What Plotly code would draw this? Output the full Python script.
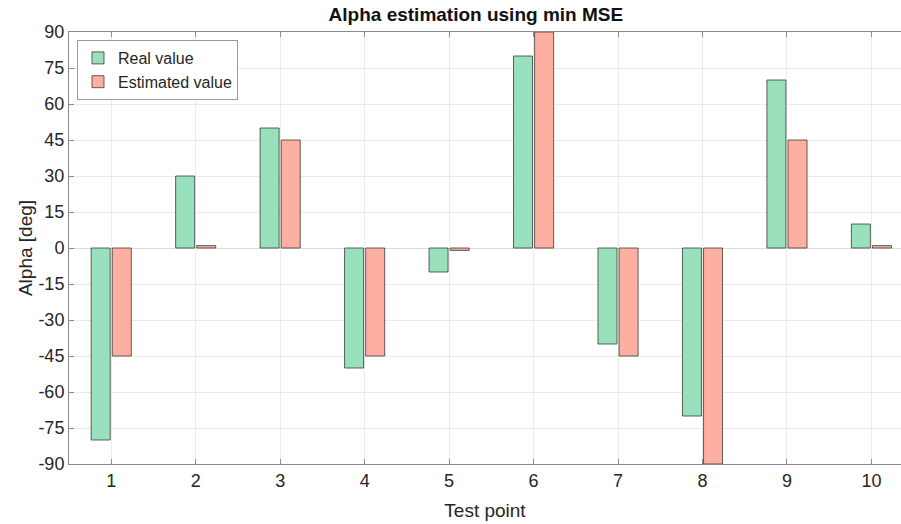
import plotly.graph_objects as go

test_points = [1, 2, 3, 4, 5, 6, 7, 8, 9, 10]
real_values = [-80, 30, 50, -50, -10, 80, -40, -70, 70, 10]
estimated_values = [-45, 1, 45, -45, -1, 90, -45, -90, 45, 1]
y_ticks = list(range(-90, 91, 15))
y_tick_labels = [str(v) for v in y_ticks]

font_family = "Liberation Sans, Arial, Helvetica, sans-serif"
axis_color = "#8a8a8a"
grid_color = "#ebebeb"
text_color = "#262626"

fig = go.Figure()
fig.add_trace(go.Bar(
    x=test_points, y=real_values, name="Real value",
    marker=dict(color="#99e0bd", line=dict(color="#3a3a3a", width=0.8)),
))
fig.add_trace(go.Bar(
    x=test_points, y=estimated_values, name="Estimated value",
    marker=dict(color="#fdb0a2", line=dict(color="#3a3a3a", width=0.8)),
))

fig.update_layout(
    width=901, height=524,
    margin=dict(l=69, r=0, t=32, b=60, autoexpand=False),
    paper_bgcolor="white", plot_bgcolor="white",
    barmode="group", bargap=0.5, bargroupgap=0.1,
    font=dict(family=font_family, color=text_color, size=18),
    title=dict(text="<b>Alpha estimation using min MSE</b>",
               x=0.489, xanchor="center", xref="paper",
               y=0.9847, yanchor="top", pad=dict(t=0, b=0),
               font=dict(size=19, color="#111111")),
    legend=dict(x=0.0096, y=0.9815, xanchor="left", yanchor="top",
                bgcolor="white", bordercolor="#9a9a9a", borderwidth=1,
                font=dict(size=16), tracegroupgap=0,
                itemwidth=30),
    showlegend=True,
)

fig.update_xaxes(
    range=[0.5, 10.35], tickvals=test_points, automargin=False,
    showline=True, linecolor=axis_color, linewidth=1, mirror="allticks",
    ticks="inside", ticklen=5, tickcolor=axis_color,
    showgrid=True, gridcolor=grid_color, gridwidth=1,
    zeroline=False,
    tickfont=dict(size=18),
    title=dict(text="Test point", font=dict(size=19), standoff=14),
)
fig.update_yaxes(
    range=[-90, 90], tickvals=y_ticks, ticktext=y_tick_labels, automargin=False,
    showline=True, linecolor=axis_color, linewidth=1,
    ticks="inside", ticklen=5, tickcolor=axis_color,
    showgrid=True, gridcolor=grid_color, gridwidth=1,
    zeroline=True, zerolinecolor="#dcdcdc", zerolinewidth=1,
    tickfont=dict(size=18),
    title=dict(text="Alpha [deg]", font=dict(size=19), standoff=0),
)

# remove the page's default body margin so the 901x524 figure fills the window exactly
fig.write_html(
    "out.html",
    config={"displayModeBar": False},
    post_script="document.body.style.margin='0';document.body.style.overflow='hidden';",
)
